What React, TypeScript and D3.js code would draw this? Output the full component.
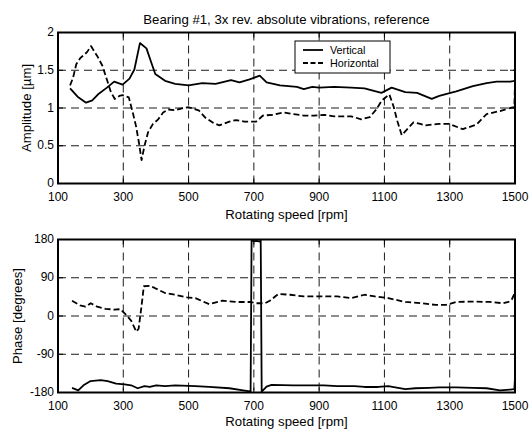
import React from "react";
import * as d3 from "d3";

// ---------- data ----------
const xTicks = [100, 300, 500, 700, 900, 1100, 1300, 1500];
const ampTicks = [0, 0.5, 1, 1.5, 2];
const ampTickLabels = ["0", "0.5", "1", "1.5", "2"];
const phaseTicks = [-180, -90, 0, 90, 180];
const phaseTickLabels = ["-180", "-90", "0", "90", "180"];

const ampVertRpm = [137, 160, 186, 205, 225, 250, 272, 298, 319, 334, 351, 371, 386, 398, 428, 459, 500, 542, 583, 630, 656, 687, 718, 739, 780, 832, 853, 879, 900, 946, 998, 1039, 1091, 1122, 1164, 1200, 1245, 1268, 1320, 1371, 1413, 1444, 1485, 1500];
const ampVert = [1.26, 1.15, 1.07, 1.10, 1.19, 1.27, 1.35, 1.31, 1.39, 1.51, 1.86, 1.79, 1.60, 1.45, 1.36, 1.32, 1.30, 1.33, 1.32, 1.37, 1.34, 1.38, 1.43, 1.34, 1.30, 1.28, 1.25, 1.28, 1.27, 1.28, 1.27, 1.26, 1.20, 1.27, 1.21, 1.20, 1.12, 1.16, 1.22, 1.29, 1.33, 1.35, 1.35, 1.36];

const ampHorRpm = [137, 146, 156, 168, 189, 201, 220, 236, 251, 262, 274, 288, 298, 317, 329, 339, 348, 356, 365, 376, 391, 407, 422, 438, 459, 485, 500, 531, 552, 573, 594, 625, 645, 671, 707, 728, 759, 790, 822, 853, 884, 915, 946, 998, 1029, 1055, 1075, 1092, 1115, 1128, 1140, 1153, 1170, 1189, 1210, 1226, 1267, 1298, 1340, 1382, 1413, 1454, 1485, 1498, 1500];
const ampHor = [1.30, 1.40, 1.58, 1.66, 1.74, 1.82, 1.69, 1.56, 1.36, 1.21, 1.12, 1.16, 1.17, 1.14, 0.94, 0.76, 0.54, 0.31, 0.50, 0.68, 0.79, 0.85, 0.94, 0.98, 0.97, 1.00, 1.01, 0.97, 0.87, 0.81, 0.77, 0.82, 0.84, 0.82, 0.82, 0.90, 0.91, 0.94, 0.92, 0.90, 0.90, 0.91, 0.89, 0.89, 0.85, 0.88, 0.98, 1.10, 1.18, 1.02, 0.82, 0.64, 0.72, 0.81, 0.79, 0.77, 0.79, 0.79, 0.72, 0.78, 0.92, 0.96, 1.00, 1.01, 1.34];

const phaseVertRpm = [143, 162, 178, 200, 231, 252, 278, 304, 324, 344, 365, 381, 401, 428, 459, 521, 563, 625, 667, 683, 690, 693, 700, 710, 718, 721, 724, 739, 754, 822, 853, 915, 956, 1008, 1039, 1081, 1112, 1133, 1164, 1195, 1237, 1268, 1320, 1371, 1413, 1454, 1485, 1498, 1500];
const phaseVert = [-169, -175, -163, -153, -151, -153, -159, -161, -163, -170, -165, -167, -163, -165, -163, -165, -167, -170, -175, -177, -178, 178, 176, 177, 175, 178, -178, -166, -162, -163, -163, -163, -165, -165, -167, -167, -165, -168, -172, -170, -169, -168, -168, -169, -170, -175, -173, -172, -145];

const phaseHorRpm = [143, 168, 184, 200, 220, 246, 272, 291, 308, 324, 340, 347, 355, 363, 381, 396, 428, 459, 495, 521, 563, 604, 645, 687, 708, 734, 749, 775, 811, 853, 915, 956, 998, 1039, 1071, 1112, 1164, 1216, 1257, 1288, 1320, 1371, 1423, 1464, 1480, 1491, 1500];
const phaseHor = [36, 25, 22, 30, 22, 17, 15, 16, 3, -11, -37, -30, 18, 70, 71, 66, 54, 50, 44, 42, 28, 36, 33, 33, 30, 30, 36, 52, 50, 46, 46, 46, 42, 50, 46, 42, 33, 30, 26, 26, 33, 34, 33, 30, 33, 40, 55];

const titleText = "Bearing #1, 3x rev. absolute vibrations, reference";
const xLabel = "Rotating speed [rpm]";
const ampLabel = "Amplitude [\u00B5m]";
const phaseLabel = "Phase [degrees]";
const legendNames = ["Vertical", "Horizontal"];

// ---------- layout ----------
const W = 531;
const H = 430;
const left = 58;
const right = 515;
const font = "'Liberation Sans', Arial, Helvetica, sans-serif";
const tickFont = 12;
const labelFont = 13.2;
const legendFont = 10.8;

type Pt = [number, number];
const zip = (xs: number[], ys: number[]): Pt[] => xs.map((x, i) => [x, ys[i]]);

function Panel(props: {
  top: number;
  bottom: number;
  yDomain: [number, number];
  yTicks: number[];
  yTickLabels: string[];
  yLabel: string;
  yLabelX: number;
  xLabelDy: number;
  solid: Pt[];
  dashed: Pt[];
  children?: React.ReactNode;
}) {
  const { top, bottom, yDomain, yTicks, yTickLabels, yLabel, yLabelX, xLabelDy, solid, dashed } = props;
  const x = d3.scaleLinear().domain([100, 1500]).range([left, right]);
  const y = d3.scaleLinear().domain(yDomain).range([bottom, top]);
  const line = d3
    .line<Pt>()
    .x((d) => x(d[0]))
    .y((d) => y(d[1]));
  const tickLen = 5;
  const clipId = `clip-${Math.round(top)}`;
  return (
    <g>
      <defs>
        <clipPath id={clipId}>
          <rect x={left} y={top} width={right - left} height={bottom - top} />
        </clipPath>
      </defs>
      <rect x={left} y={top} width={right - left} height={bottom - top} fill="#fff" />
      {/* grid */}
      {xTicks.slice(1, -1).map((t) => (
        <line key={"gx" + t} x1={x(t)} x2={x(t)} y1={top} y2={bottom} stroke="#000" strokeWidth={0.9} strokeDasharray="8,5" />
      ))}
      {yTicks.slice(1, -1).map((t) => (
        <line key={"gy" + t} x1={left} x2={right} y1={y(t)} y2={y(t)} stroke="#000" strokeWidth={0.9} strokeDasharray="8,5" />
      ))}
      {/* ticks */}
      {xTicks.map((t) => (
        <g key={"tx" + t}>
          <line x1={x(t)} x2={x(t)} y1={bottom} y2={bottom - tickLen} stroke="#000" strokeWidth={1} />
          <line x1={x(t)} x2={x(t)} y1={top} y2={top + tickLen} stroke="#000" strokeWidth={1} />
          <text x={x(t)} y={bottom + 17} textAnchor="middle" fontSize={tickFont} fontFamily={font}>
            {t}
          </text>
        </g>
      ))}
      {yTicks.map((t, i) => (
        <g key={"ty" + t}>
          <line x1={left} x2={left + tickLen} y1={y(t)} y2={y(t)} stroke="#000" strokeWidth={1} />
          <line x1={right} x2={right - tickLen} y1={y(t)} y2={y(t)} stroke="#000" strokeWidth={1} />
          <text x={left - 4} y={y(t) + 3.5} textAnchor="end" fontSize={tickFont} fontFamily={font}>
            {yTickLabels[i]}
          </text>
        </g>
      ))}
      {/* data */}
      <g clipPath={`url(#${clipId})`}>
        <path d={line(solid) || ""} fill="none" stroke="#000" strokeWidth={1.8} strokeLinejoin="round" />
        <path d={line(dashed) || ""} fill="none" stroke="#000" strokeWidth={1.8} strokeDasharray="6,3" strokeLinejoin="round" />
      </g>
      {/* box */}
      <rect x={left} y={top} width={right - left} height={bottom - top} fill="none" stroke="#000" strokeWidth={2} />
      {/* x label */}
      <text x={(left + right) / 2} y={bottom + xLabelDy} textAnchor="middle" fontSize={labelFont} fontFamily={font}>
        {xLabel}
      </text>
      {/* y label */}
      <text
        transform={`translate(${yLabelX},${(top + bottom) / 2}) rotate(-90)`}
        textAnchor="middle"
        fontSize={labelFont}
        fontFamily={font}
      >
        {yLabel}
      </text>
      {props.children}
    </g>
  );
}

export default function App() {
  const ampSolid = zip(ampVertRpm, ampVert);
  const ampDashed = zip(ampHorRpm, ampHor);
  const phSolid = zip(phaseVertRpm, phaseVert);
  const phDashed = zip(phaseHorRpm, phaseHor);
  return (
    <svg
      width={W}
      height={H}
      viewBox={`0 0 ${W} ${H}`}
      style={{ position: "absolute", left: 0, top: 0, background: "#fff" }}
    >
      <rect x={0} y={0} width={W} height={H} fill="#fff" />
      <text x={(left + right) / 2} y={24} textAnchor="middle" fontSize={labelFont} fontFamily={font}>
        {titleText}
      </text>
      <Panel
        top={32.5}
        bottom={183.5}
        yDomain={[0, 2]}
        yTicks={ampTicks}
        yTickLabels={ampTickLabels}
        yLabel={ampLabel}
        yLabelX={31}
        xLabelDy={35}
        solid={ampSolid}
        dashed={ampDashed}
      >
        <g>
          <rect x={295} y={41} width={95} height={32} fill="#fff" stroke="#000" strokeWidth={1} />
          <line x1={303} x2={323} y1={50} y2={50} stroke="#000" strokeWidth={1.8} />
          <line x1={303} x2={323} y1={63} y2={63} stroke="#000" strokeWidth={1.8} strokeDasharray="5,2.5" />
          <text x={330} y={54} fontSize={legendFont} fontFamily={font}>
            {legendNames[0]}
          </text>
          <text x={330} y={67} fontSize={legendFont} fontFamily={font}>
            {legendNames[1]}
          </text>
        </g>
      </Panel>
      <Panel
        top={239.5}
        bottom={392.5}
        yDomain={[-180, 180]}
        yTicks={phaseTicks}
        yTickLabels={phaseTickLabels}
        yLabel={phaseLabel}
        yLabelX={22}
        xLabelDy={33.5}
        solid={phSolid}
        dashed={phDashed}
      />
    </svg>
  );
}
